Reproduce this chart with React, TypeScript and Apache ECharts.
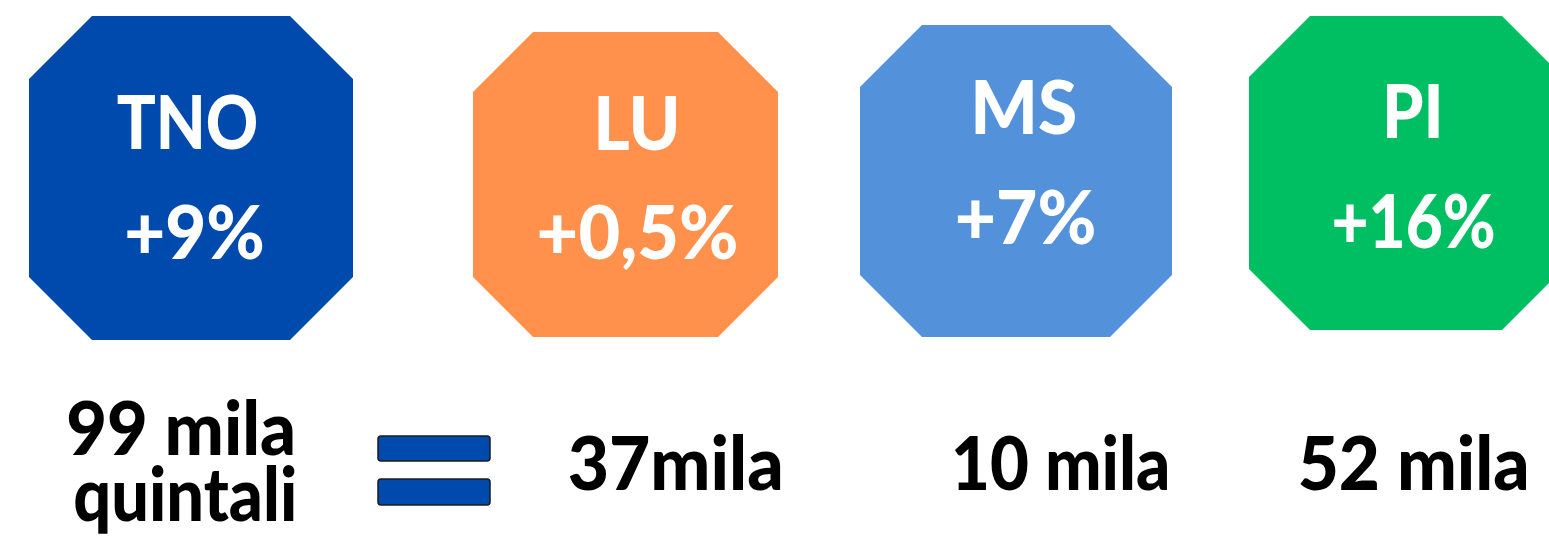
import React, { useEffect, useRef } from 'react';
import * as echarts from 'echarts';

// ---- data ----
const regions = ['TNO', 'LU', 'MS', 'PI'];
const changes = ['+9%', '+0,5%', '+7%', '+16%'];
const quantities = ['99 mila\nquintali', '37mila', '10 mila', '52 mila'];

// ---- styles / layout ----
const colors = ['#004AAD', '#FF914D', '#5491DB', '#00BF63'];
const FONT_FAMILY = 'Lato';
const FONT_WEIGHT = 900;
const FONT_SIZE = 75;

const boxes = [
  { x0: 29, y0: 16, x1: 353, y1: 340, c: 63 },
  { x0: 473, y0: 32, x1: 778, y1: 337, c: 60 },
  { x0: 860, y0: 25, x1: 1172, y1: 337, c: 62 },
  { x0: 1249, y0: 16, x1: 1563, y1: 330, c: 61 },
];
const nameLayout = [
  { cx: 187, cy: 120, w: 139 },
  { cx: 637, cy: 120.5, w: 78 },
  { cx: 1025, cy: 105, w: 100 },
  { cx: 1413, cy: 108.5, w: 53 },
];
const changeLayout = [
  { cx: 195, cy: 230, w: 136 },
  { cx: 638, cy: 230, w: 197 },
  { cx: 1026, cy: 215, w: 137 },
  { cx: 1414, cy: 219, w: 160 },
];
const qtyLayout = [
  [
    { cx: 180.5, cy: 426, w: 225 },
    { cx: 185, cy: 492, w: 220 },
  ],
  [{ cx: 675, cy: 461, w: 211 }],
  [{ cx: 1061, cy: 461, w: 213 }],
  [{ cx: 1413, cy: 461, w: 227 }],
];
const equalsRects = [
  { x: 378, y: 436, w: 112, h: 25 },
  { x: 378, y: 479, w: 112, h: 26 },
];

let ctx: CanvasRenderingContext2D | null = null;
function measure(text: string) {
  if (!ctx) ctx = document.createElement('canvas').getContext('2d');
  const c = ctx as CanvasRenderingContext2D;
  c.font = `${FONT_WEIGHT} ${FONT_SIZE}px ${FONT_FAMILY}`;
  c.textAlign = 'center';
  const m = c.measureText(text);
  const left = m.actualBoundingBoxLeft || m.width / 2;
  const right = m.actualBoundingBoxRight || m.width / 2;
  return { left, right, ink: left + right };
}

function textEl(text: string, lay: { cx: number; cy: number; w: number }, fill: string) {
  const m = measure(text);
  const sx = lay.w / m.ink;
  return {
    type: 'text',
    x: lay.cx - (sx * (m.right - m.left)) / 2,
    y: lay.cy,
    scaleX: sx,
    style: {
      text,
      fill,
      fontSize: FONT_SIZE,
      fontFamily: FONT_FAMILY,
      fontWeight: FONT_WEIGHT,
      align: 'center',
      verticalAlign: 'middle',
      textAlign: 'center',
      textVerticalAlign: 'middle',
    },
  };
}

function octagon(b: { x0: number; y0: number; x1: number; y1: number; c: number }) {
  const { x0, y0, x1, y1, c } = b;
  return [
    [x0 + c, y0],
    [x1 - c, y0],
    [x1, y0 + c],
    [x1, y1 - c],
    [x1 - c, y1],
    [x0 + c, y1],
    [x0, y1 - c],
    [x0, y0 + c],
  ];
}

export default function App() {
  const ref = useRef<HTMLDivElement>(null);
  useEffect(() => {
    document.body.style.margin = '0';
    if (!ref.current) return;
    const chart = echarts.init(ref.current, undefined, { renderer: 'svg' });
    const elements: any[] = [];
    regions.forEach((r, i) => {
      elements.push({
        type: 'polygon',
        shape: { points: octagon(boxes[i]) },
        style: { fill: colors[i] },
      });
      elements.push(textEl(r, nameLayout[i], '#ffffff'));
      elements.push(textEl(changes[i], changeLayout[i], '#ffffff'));
      quantities[i].split('\n').forEach((line, j) => {
        elements.push(textEl(line, qtyLayout[i][j], '#000000'));
      });
    });
    equalsRects.forEach((e) => {
      elements.push({
        type: 'rect',
        shape: { x: e.x, y: e.y, width: e.w, height: e.h, r: 3 },
        style: { fill: colors[0], stroke: '#1b1b1b', lineWidth: 1.5 },
      });
    });
    chart.setOption({
      animation: false,
      backgroundColor: '#ffffff',
      graphic: { elements },
    });
    return () => chart.dispose();
  }, []);
  return <div ref={ref} style={{ width: 1549, height: 536 }} />;
}
